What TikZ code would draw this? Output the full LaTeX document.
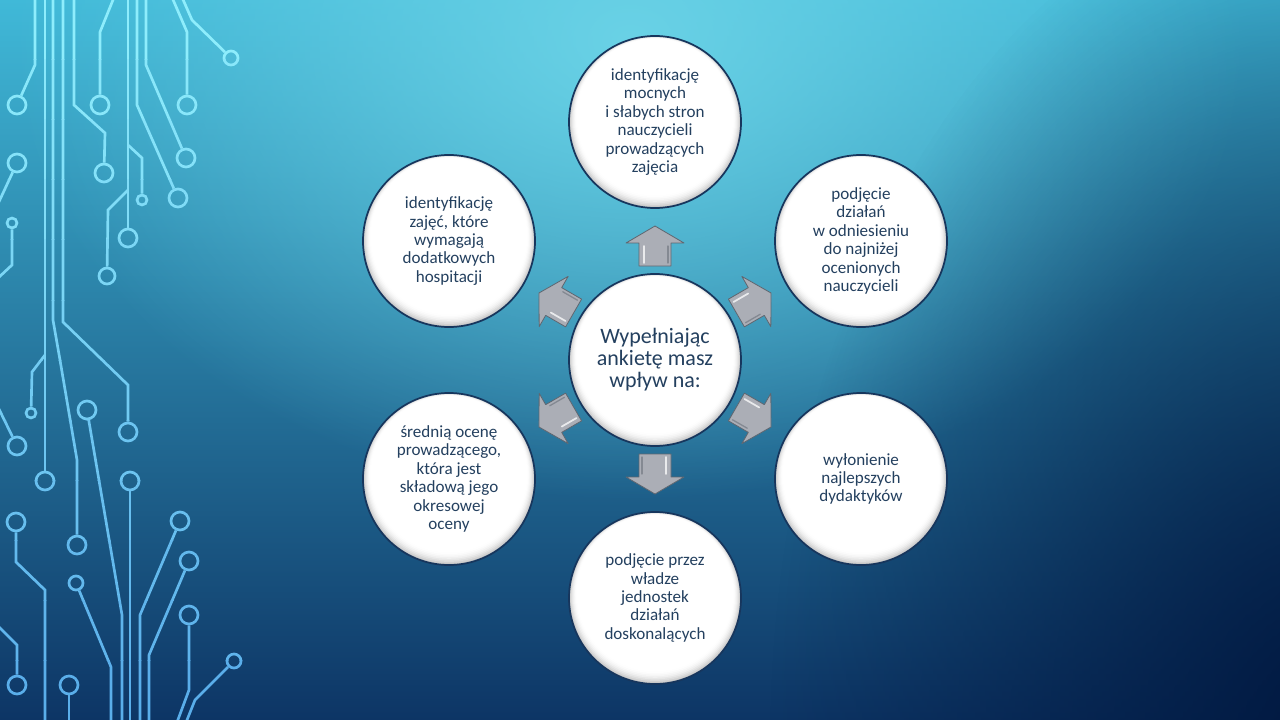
\documentclass[tikz,border=0pt]{standalone}
\usepackage{fontspec}
\setmainfont{Carlito}
\usetikzlibrary{calc,fadings}
\definecolor{txt}{HTML}{24405F}
\definecolor{navy}{HTML}{17365D}
\definecolor{bgTop}{HTML}{40B9D8}
\definecolor{bgMid}{HTML}{36A5CB}
\definecolor{bgBot}{HTML}{0D3565}
\definecolor{hlc}{HTML}{6AD2E6}
\definecolor{darkc}{HTML}{011840}
\definecolor{lct}{HTML}{8EEDFC}
\definecolor{lcb}{HTML}{5AAEEA}
\definecolor{arrfill}{HTML}{ABAEB6}
\definecolor{arrline}{HTML}{5F6670}
\tikzfading[name=radfade, inner color=transparent!0, outer color=transparent!100]
\tikzset{
  cline/.style={draw=lc, line width=2pt},
  cdot/.style={circle, draw=lc, line width=2pt, inner sep=0pt, minimum size=#1},
  cdot/.default=13.5pt,
  bub/.style={circle, draw=navy, line width=1.3pt, minimum size=129pt, inner sep=0pt, align=center, text=txt, font=\fontsize{12.8}{13.8}\selectfont},
  bigtext/.style={font=\fontsize{16.5}{16.5}\selectfont},
  arrowbox/.style={fill=arrfill, draw=arrline, line width=0.6pt, line join=round}
}
\newcommand\mycircuit{%
  % upper part
  \node[cdot] (dA) at (17,105) {};
  \draw[cline] (35,-5)--(35,65)--(dA);
  \node[cdot] (dB) at (45,481) {};
  \draw[cline] (45,-5)--(dB);
  \node[cdot=7.5pt] (dB2) at (31,413) {};
  \draw[cline] (45,355)--(32,372)--(dB2);
  \node[cdot] (dC) at (77,545) {};
  \draw[cline] (53,-5)--(53,320)--(60,360)--(77,460)--(dC);
  \node[cdot] (dD) at (128,432) {};
  \draw[cline] (63,-5)--(63,322)--(128,385)--(dD);
  \node[cdot] (dE) at (104,173) {};
  \draw[cline] (74,-5)--(74,105)--(105,133)--(dE);
  \node[cdot] (dF) at (100,105) {};
  \draw[cline] (115,-5)--(100,32)--(dF);
  \node[cdot] (dG) at (128,238) {};
  \draw[cline] (128,-5)--(dG);
  \node[cdot=7.5pt] (dG2) at (142,200) {};
  \draw[cline] (128,145)--(142,158)--(dG2);
  \node[cdot=12pt] (dG3) at (107,276) {};
  \draw[cline] (128,190)--(108,210)--(dG3);
  \node[cdot] (dH) at (178,198) {};
  \draw[cline] (137,-5)--(137,105)--(dH);
  \node[cdot] (dI) at (186,158) {};
  \draw[cline] (146,-5)--(146,65)--(dI);
  \node[cdot] (dJ) at (187,105) {};
  \draw[cline] (171,-5)--(187,32)--(dJ);
  \node[cdot=10.5pt] (dK) at (231,58) {};
  \draw[cline] (181,-5)--(192,20)--(dK);
  \node[cdot] (dL) at (17,163) {};
  \draw[cline] (dL)--(-3,206);
  \node[cdot=7.5pt] (dL2) at (12,223) {};
  \draw[cline] (dL2)--(12,265)--(-3,279);
  % lower part
  \node[cdot] (dM) at (87,410) {};
  \draw[cline] (dM)--(122,615)--(122,725);
  \node[cdot] (dN) at (130,481) {};
  \draw[cline] (dN)--(130,725);
  \node[cdot] (dO) at (180,521) {};
  \draw[cline] (dO)--(140,615)--(140,725);
  \node[cdot] (dP) at (189,561) {};
  \draw[cline] (dP)--(149,655)--(149,725);
  \node[cdot] (dQ) at (189,615) {};
  \draw[cline] (dQ)--(189,690)--(176,725);
  \node[cdot=10.5pt] (dR) at (234,661) {};
  \draw[cline] (dR)--(195,700)--(185,725);
  \node[cdot] (dS) at (17,446) {};
  \draw[cline] (-3,405)--(dS);
  \node[cdot] (dT) at (16,522) {};
  \draw[cline] (dT)--(16,562)--(45,590)--(45,725);
  \node[cdot=10.5pt] (dU) at (76,583) {};
  \draw[cline] (dU)--(111,667)--(111,725);
  \node[cdot] (dV) at (17,685) {};
  \draw[cline] (-3,625)--(17,645)--(dV);
  \node[cdot] (dW) at (69,685) {};
  \draw[cline] (dW)--(69,725);
}
\newcommand\mybubble[4][]{%
  \foreach \k/\g in {0/46,1/36,2/27,3/19,4/12,5/7,6/3,7/1,8/0}{
    \fill[gray!\g!white] ($(#3)+(0,-\k*0.6)$) circle ({86-\k*0.95});
  }
  \node[bub,#1] (#2) at (#3) {#4};
}
\begin{document}
\begin{tikzpicture}[x=0.75pt,y=-0.75pt]
\useasboundingbox (0,0) rectangle (1280,720);
% background
\begin{scope}
  \clip (0,0) rectangle (1280,720);
  \shade[top color=bgTop, middle color=bgMid, bottom color=bgBot] (0,0) rectangle (1280,720);
  \fill[hlc, path fading=radfade] (630,40) ellipse [x radius=620, y radius=460];
  \fill[darkc, path fading=radfade] (1330,740) ellipse [x radius=560, y radius=860];
\end{scope}
% circuit decoration
\foreach \b in {0,...,11}{
  \pgfmathsetmacro\pp{100*\b/11}
  \colorlet{lc}{lcb!\pp!lct}
  \begin{scope}
    \clip (-10,\b*60) rectangle (270,\b*60+60);
    \mycircuit
  \end{scope}
}
% positions
\coordinate (pc) at (655,360);
\coordinate (pt) at (655,122);
\coordinate (ptr) at (861,241);
\coordinate (pbr) at (861,479);
\coordinate (pb) at (655,598);
\coordinate (pbl) at (449,479);
\coordinate (ptl) at (449,241);
% bubbles
\mybubble[bigtext]{c}{pc}{Wypełniając\\ankietę masz\\wpływ na:}
\mybubble{t}{pt}{identyfikację\\mocnych\\i słabych stron\\nauczycieli\\prowadzących\\zajęcia}
\mybubble{tr}{ptr}{podjęcie\\działań\\w odniesieniu\\do najniżej\\ocenionych\\nauczycieli}
\mybubble{br}{pbr}{wyłonienie\\najlepszych\\dydaktyków}
\mybubble{b}{pb}{podjęcie przez\\władze\\jednostek\\działań\\doskonalących}
\mybubble{bl}{pbl}{średnią ocenę\\prowadzącego,\\która jest\\składową jego\\okresowej\\oceny}
\mybubble{tl}{ptl}{identyfikację\\zajęć, które\\wymagają\\dodatkowych\\hospitacji}
% block arrows
\foreach \a in {90,30,-30,-90,210,150}{
  \begin{scope}[shift={(c.center)}, rotate=\a]
    \draw[arrowbox] (94,-16)--(117,-16)--(117,-29)--(134,0)--(117,29)--(117,16)--(94,16)--cycle;
    \draw[white, opacity=0.75, line width=1.3pt, line cap=round] (97,-11)--(114,-11);
    \draw[arrline, opacity=0.5, line width=1pt, line cap=round] (97,13)--(114,13);
  \end{scope}
}
\end{tikzpicture}
\end{document}
